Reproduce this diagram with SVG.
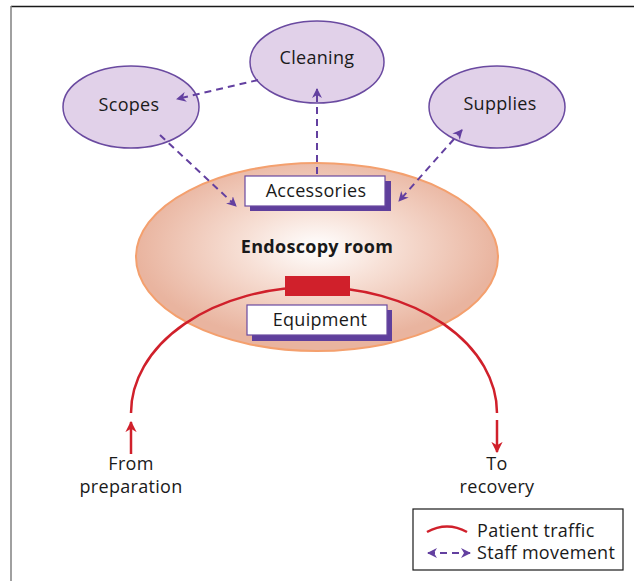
<svg xmlns="http://www.w3.org/2000/svg" width="634" height="581" viewBox="0 0 634 581">
  <defs>
    <radialGradient id="roomFill" cx="0.5" cy="0.45" r="0.5">
      <stop offset="0" stop-color="#ffffff"/>
      <stop offset="0.4" stop-color="#f7e0d6"/>
      <stop offset="1" stop-color="#e9b49f"/>
    </radialGradient>
    <marker id="purpleHead" viewBox="0 0 10 10" refX="9" refY="5" markerWidth="5" markerHeight="5" orient="auto-start-reverse" markerUnits="strokeWidth">
      <path d="M0,0 L10,5 L0,10 L3,5 Z" fill="#6340a0"/>
    </marker>
    <marker id="redHead" viewBox="0 0 10 10" refX="9" refY="5" markerWidth="4.5" markerHeight="4.5" orient="auto" markerUnits="strokeWidth">
      <path d="M0,0 L10,5 L0,10 L3,5 Z" fill="#d0202b"/>
    </marker>
  </defs>
  <style>
    .txt { font-family: "Open Sans", "Liberation Sans", sans-serif; font-size: 18px; letter-spacing: 0.3px; fill: #1a1a1a; }
    .store { fill: #e1d1e9; stroke: #6a4aa0; stroke-width: 1.5; }
    .staff { fill: none; stroke: #6340a0; stroke-width: 2; stroke-dasharray: 7 5; }
    .patient { fill: none; stroke: #d0202b; stroke-width: 2.5; }
    .box { fill: #ffffff; stroke: #6a4aa0; stroke-width: 1.2; }
    .shadow { fill: #5f3f9c; }
  </style>

  <rect width="634" height="581" fill="#ffffff"/>
  <!-- frame -->
  <line x1="11" y1="6.5" x2="634" y2="6.5" stroke="#1a1a1a" stroke-width="1.5"/>
  <line x1="11" y1="6" x2="11" y2="581" stroke="#808080" stroke-width="1.5"/>

  <!-- endoscopy room -->
  <g id="room">
    <ellipse cx="317" cy="257" rx="181" ry="94" fill="url(#roomFill)" stroke="#f4a06e" stroke-width="2"/>
    <text class="txt" x="317" y="253" text-anchor="middle" font-weight="bold" font-size="16.5" letter-spacing="0">Endoscopy room</text>
  </g>

  <g id="scopes">
    <ellipse class="store" cx="131" cy="107" rx="68" ry="41"/>
    <text class="txt" x="129" y="111" text-anchor="middle">Scopes</text>
  </g>
  <g id="cleaning">
    <ellipse class="store" cx="317" cy="62" rx="67" ry="41"/>
    <text class="txt" x="317" y="64" text-anchor="middle">Cleaning</text>
  </g>
  <g id="supplies">
    <ellipse class="store" cx="497" cy="107" rx="68" ry="41"/>
    <text class="txt" x="500" y="110" text-anchor="middle">Supplies</text>
  </g>

  <!-- connectors -->
  <g id="connectors">
    <line class="staff" x1="258" y1="80" x2="177" y2="99" marker-end="url(#purpleHead)"/>
    <line class="staff" x1="317" y1="174" x2="317" y2="89" marker-end="url(#purpleHead)"/>
    <line class="staff" x1="160" y1="135" x2="236" y2="206" marker-end="url(#purpleHead)"/>
    <line class="staff" x1="462" y1="130" x2="399" y2="201" marker-start="url(#purpleHead)" marker-end="url(#purpleHead)"/>

    <path class="patient" d="M131,413 A183,126 0 0 1 497,413"/>
    <line class="patient" x1="131" y1="454" x2="131" y2="422" marker-end="url(#redHead)"/>
    <line class="patient" x1="497" y1="420" x2="497" y2="452" marker-end="url(#redHead)"/>
  </g>

  <g id="red-block">
    <rect x="285" y="276" width="65" height="20" fill="#d0202b"/>
  </g>

  <g id="accessories">
    <rect class="shadow" x="250" y="181" width="141" height="30"/>
    <rect class="box" x="245" y="176" width="140" height="30"/>
    <text class="txt" x="316" y="197" text-anchor="middle">Accessories</text>
  </g>
  <g id="equipment">
    <rect class="shadow" x="252" y="310" width="140" height="31"/>
    <rect class="box" x="247" y="305" width="140" height="30"/>
    <text class="txt" x="320" y="326" text-anchor="middle">Equipment</text>
  </g>

  <g id="from-preparation">
    <text class="txt" x="131" y="470" text-anchor="middle">From</text>
    <text class="txt" x="131" y="493" text-anchor="middle">preparation</text>
  </g>
  <g id="to-recovery">
    <text class="txt" x="497" y="470" text-anchor="middle">To</text>
    <text class="txt" x="497" y="493" text-anchor="middle">recovery</text>
  </g>

  <!-- legend -->
  <g id="legend">
    <rect x="413" y="509" width="210" height="61" fill="#ffffff" stroke="#1a1a1a" stroke-width="1.2"/>
    <path class="patient" d="M427,532 Q447,521 467,532" stroke-width="2.2"/>
    <text class="txt" x="477" y="537">Patient traffic</text>
    <line class="staff" x1="428" y1="553" x2="470" y2="553" stroke-dasharray="5 4" marker-start="url(#purpleHead)" marker-end="url(#purpleHead)"/>
    <text class="txt" x="477" y="559">Staff movement</text>
  </g>
</svg>
